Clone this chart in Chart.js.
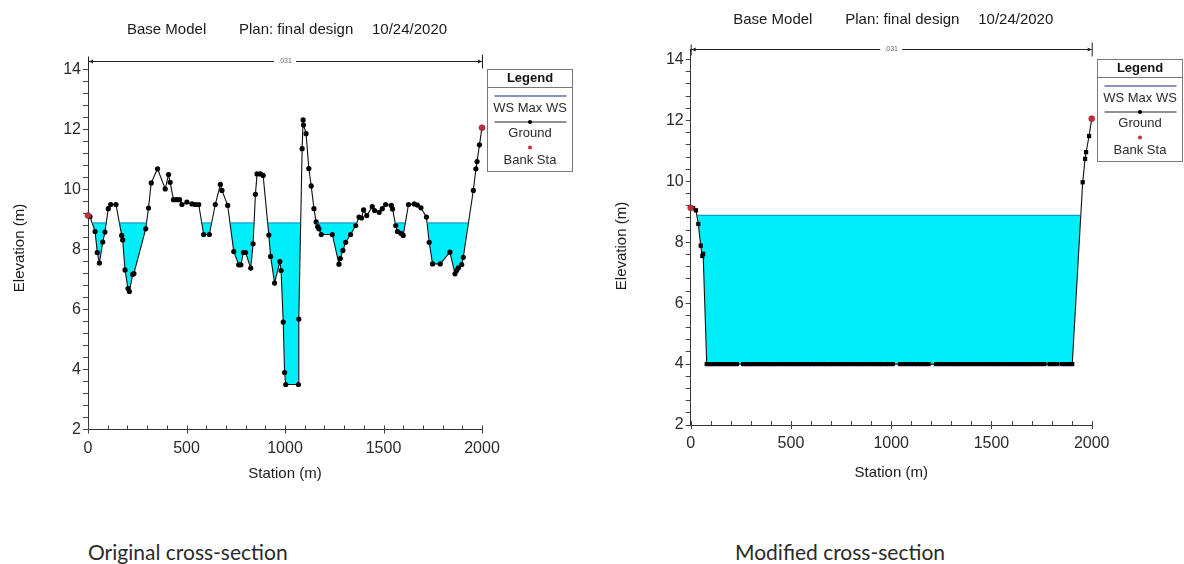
<!DOCTYPE html>
<html>
<head>
<meta charset="utf-8">
<script src="https://cdn.jsdelivr.net/npm/chart.js@4.4.1/dist/chart.umd.min.js"></script>
<style>
  html, body { margin: 0; padding: 0; background: #fff; }
  body { width: 1184px; height: 564px; position: relative; overflow: hidden; }
  .panel { position: absolute; top: 0; width: 592px; height: 500px; }
  #left { left: 0; }
  #right { left: 592px; }
  .caption { position: absolute; top: 541px; font-family: Lato, "Open Sans", sans-serif; font-size: 21px; line-height: 1; color: #2a2a2a; }
</style>
</head>
<body>
<div class="panel" id="left"><canvas id="origChart"></canvas></div>
<div class="panel" id="right"><canvas id="modChart"></canvas></div>
<div class="caption" style="left:88px">Original cross-section</div>
<div class="caption" style="left:735px">Modified cross-section</div>
<script>
// Original cross-section: ground survey points (station m, elevation m)
const origStations = [0, 10, 36, 47, 58, 75, 86, 103, 115, 142, 171, 176, 188, 203, 210, 227, 233,
  293, 307, 321, 353, 392, 409, 417, 434, 450, 465, 477, 502, 528, 545, 562, 587, 616, 646, 672,
  680, 709, 740, 765, 776, 789, 800, 826, 838, 850, 858, 875, 889, 918, 927, 947, 974, 980, 991,
  998, 1004, 1068, 1070, 1087, 1092, 1094, 1107, 1121, 1133, 1147, 1158, 1166, 1172, 1184, 1240,
  1274, 1281, 1294, 1308, 1333, 1359, 1376, 1389, 1399, 1415, 1443, 1455, 1478, 1494, 1511, 1540,
  1546, 1562, 1571, 1588, 1600, 1627, 1656, 1672, 1690, 1718, 1732, 1749, 1788, 1837, 1863, 1871,
  1880, 1897, 1905, 1956, 1969, 1975, 1987, 2000];
const origElev = [9.13, 9.10, 8.60, 7.90, 7.55, 8.25, 8.58, 9.36, 9.50, 9.50, 8.47, 8.32, 7.32, 6.70, 6.60, 7.17, 7.20,
  8.69, 9.38, 10.22, 10.69, 10.02, 10.50, 10.24, 9.66, 9.66, 9.66, 9.50, 9.58, 9.52, 9.50, 9.50, 8.50, 8.50, 9.50, 10.17,
  9.97, 9.47, 7.93, 7.49, 7.49, 7.90, 7.90, 7.38, 8.19, 9.84, 10.52, 10.52, 10.47, 8.48, 7.77, 6.88, 7.60, 7.30, 5.58,
  3.90, 3.50, 3.50, 5.68, 11.36, 12.32, 12.15, 11.86, 10.70, 10.12, 9.36, 8.92, 8.76, 8.69, 8.50, 8.50,
  7.51, 7.70, 7.97, 8.24, 8.50, 8.80, 9.08, 9.05, 9.32, 9.13, 9.43, 9.30, 9.24, 9.36, 9.50, 9.47,
  9.35, 8.80, 8.60, 8.54, 8.47, 9.50, 9.52, 9.48, 9.39, 9.08, 8.24, 7.52, 7.52, 7.91, 7.19, 7.30,
  7.39, 7.50, 7.74, 9.97, 10.69, 10.93, 11.49, 12.06];
const origBankStations = [0, 2000];
const origBankElev = [9.13, 12.06];
const origWS = 8.9;

// Modified cross-section: left bank, flat dredged bed, right bank
const modLeftStations = [0, 12, 26, 38, 50, 58, 62];
const modLeftElev = [9.13, 9.12, 9.05, 8.60, 7.89, 7.55, 7.62];
const modBedElev = 4.0;
const modBedStations = [80, 96, 112, 128, 146, 162, 178, 196, 214, 230, 262, 278, 296, 312, 330, 346,
  362, 380, 398, 414, 430, 448, 466, 482, 500, 518, 536, 552, 570, 588, 604, 622, 640, 658, 676, 694,
  710, 728, 746, 762, 780, 798, 816, 834, 850, 868, 886, 904, 920, 938, 956, 974, 990, 1008, 1044,
  1062, 1080, 1098, 1116, 1134, 1152, 1170, 1186, 1224, 1242, 1260, 1278, 1296, 1314, 1332, 1350,
  1368, 1386, 1404, 1422, 1440, 1458, 1476, 1494, 1512, 1530, 1548, 1566, 1584, 1602, 1620, 1638,
  1656, 1674, 1692, 1710, 1728, 1746, 1764, 1790, 1808, 1826, 1850, 1868, 1886, 1903];
const modRightStations = [1955, 1967, 1972, 1987, 2000];
const modRightElev = [9.97, 10.74, 10.96, 11.49, 12.06];
const modBankStations = [0, 2000];
const modBankElev = [9.13, 12.06];
const modWS = 8.9;

// Axes and labels
const stationRange = [0, 2000];
const xTickLabels = [0, 500, 1000, 1500, 2000];
const yTickLabels = [2, 4, 6, 8, 10, 12, 14];
const titleParts = ['Base Model', 'Plan: final design', '10/24/2020'];
const roughnessLabel = '.031';
const legendItems = ['WS Max WS', 'Ground', 'Bank Sta'];

const FONT = '"Liberation Sans", Arial, sans-serif';
const WATER = 'rgb(0, 238, 250)';
Chart.defaults.font.family = FONT;
Chart.defaults.color = '#2a2a2a';

function toPoints(stations, elev) {
    return stations.map((s, i) => ({ x: s, y: elev[i] }));
}

// Extra drawing: title, n-value bracket, axis titles, legend, water surface edge, x ticks
const sectionDecor = {
    id: 'sectionDecor',
    afterDatasetsDraw(chart, args, o) {
        const { ctx, chartArea: a, scales: { x, y } } = chart;
        const x0 = x.getPixelForValue(stationRange[0]);
        const x1 = x.getPixelForValue(stationRange[1]);

        // water surface edge, only where the ground is below it
        const pts = chart.getDatasetMeta(1).data;
        const wsY = y.getPixelForValue(o.ws);
        ctx.save();
        ctx.beginPath();
        ctx.moveTo(pts[0].x, pts[0].y);
        pts.forEach(p => ctx.lineTo(p.x, p.y));
        ctx.lineTo(pts[pts.length - 1].x, a.top);
        ctx.lineTo(pts[0].x, a.top);
        ctx.closePath();
        ctx.clip();
        ctx.strokeStyle = 'rgba(40, 130, 185, 0.9)';
        ctx.lineWidth = 1;
        ctx.beginPath();
        ctx.moveTo(x0, wsY + 0.5);
        ctx.lineTo(x1, wsY + 0.5);
        ctx.stroke();
        ctx.restore();

        ctx.save();
        // x ticks (inside), longer at labelled ones
        ctx.strokeStyle = '#444';
        ctx.lineWidth = 1;
        ctx.beginPath();
        for (let v = stationRange[0]; v <= stationRange[1]; v += 100) {
            const px = Math.round(x.getPixelForValue(v)) + 0.5;
            const major = xTickLabels.includes(v);
            ctx.moveTo(px, a.bottom - 4);
            ctx.lineTo(px, a.bottom + (major ? 4 : 0));
        }
        ctx.stroke();

        // roughness bracket across the top
        const by = Math.round(a.top) + 0.5;
        const mid = (x0 + x1) / 2;
        ctx.strokeStyle = '#222';
        ctx.beginPath();
        ctx.moveTo(x0, by); ctx.lineTo(mid - 11, by);
        ctx.moveTo(mid + 11, by); ctx.lineTo(x1, by);
        ctx.moveTo(x0 + 0.5, by - 5); ctx.lineTo(x0 + 0.5, by + 6);
        ctx.moveTo(x1 + 0.5, by - 7); ctx.lineTo(x1 + 0.5, by + 7);
        ctx.stroke();
        ctx.fillStyle = '#222';
        ctx.beginPath();
        ctx.moveTo(x0 + 1, by); ctx.lineTo(x0 + 5, by - 2); ctx.lineTo(x0 + 5, by + 2); ctx.closePath();
        ctx.moveTo(x1, by); ctx.lineTo(x1 - 4, by - 2); ctx.lineTo(x1 - 4, by + 2); ctx.closePath();
        ctx.fill();
        ctx.fillStyle = '#666';
        ctx.font = '7px ' + FONT;
        ctx.textAlign = 'center';
        ctx.textBaseline = 'middle';
        ctx.fillText(roughnessLabel, mid, by);

        // plot title
        ctx.fillStyle = '#1a1a1a';
        ctx.font = '15px ' + FONT;
        ctx.textAlign = 'left';
        ctx.fillText(titleParts[0], mid - 158, o.titleY);
        ctx.fillText(titleParts[1], mid - 46, o.titleY);
        ctx.fillText(titleParts[2], mid + 87, o.titleY);

        // axis titles
        ctx.textAlign = 'center';
        ctx.fillText('Station (m)', mid, o.stationTitleY);
        ctx.save();
        ctx.translate(o.elevTitleX, o.elevTitleY);
        ctx.rotate(-Math.PI / 2);
        ctx.fillText('Elevation (m)', 0, 0);
        ctx.restore();

        // legend box
        const lx = Math.round(a.right) + 5.5, ly = o.legendTop + 0.5, w = 85, h = 102;
        const cx = lx + w / 2;
        ctx.strokeStyle = '#777';
        ctx.strokeRect(lx, ly, w, h);
        ctx.beginPath();
        ctx.moveTo(lx, ly + 18); ctx.lineTo(lx + w, ly + 18);
        ctx.stroke();
        ctx.fillStyle = '#111';
        ctx.font = 'bold 13px ' + FONT;
        ctx.fillText('Legend', cx, ly + 8.5);
        ctx.font = '13px ' + FONT;
        ctx.fillStyle = '#2a2a2a';
        ctx.fillText(legendItems[0], cx, ly + 38.5);
        ctx.fillText(legendItems[1], cx, ly + 64);
        ctx.fillText(legendItems[2], cx, ly + 90.5);
        ctx.strokeStyle = 'rgb(100, 110, 165)';
        ctx.lineWidth = 1.5;
        ctx.beginPath();
        ctx.moveTo(lx + 7, ly + 26.5); ctx.lineTo(lx + w - 6, ly + 26.5);
        ctx.stroke();
        ctx.strokeStyle = '#222';
        ctx.lineWidth = 1;
        ctx.beginPath();
        ctx.moveTo(lx + 7, ly + 52.5); ctx.lineTo(lx + w - 6, ly + 52.5);
        ctx.stroke();
        ctx.fillStyle = '#000';
        ctx.beginPath(); ctx.arc(cx, ly + 52.5, 2, 0, Math.PI * 2); ctx.fill();
        ctx.fillStyle = '#c0303a';
        ctx.beginPath(); ctx.arc(cx, ly + 78, 2, 0, Math.PI * 2); ctx.fill();
        ctx.restore();
    }
};

function buildChart(canvasId, ground, banks, ws, o) {
    const ctx = document.getElementById(canvasId).getContext('2d');
    return new Chart(ctx, {
        type: 'line',
        data: {
            datasets: [
                {
                    label: 'Bank Sta',
                    data: banks,
                    showLine: false,
                    pointRadius: 3,
                    pointBackgroundColor: '#c0303a',
                    pointBorderColor: '#8a1f28',
                    pointBorderWidth: 0.5,
                    clip: false
                },
                {
                    label: 'Ground',
                    data: ground,
                    borderColor: '#111',
                    borderWidth: 1.1,
                    pointStyle: o.pointStyle,
                    pointRadius: o.pointRadius,
                    pointBackgroundColor: '#000',
                    pointBorderColor: '#000',
                    pointBorderWidth: 0,
                    tension: 0,
                    clip: false
                },
                {
                    label: 'WS Max WS',
                    data: stationRange.map(s => ({ x: s, y: ws })),
                    borderWidth: 0,
                    borderColor: 'rgba(0,0,0,0)',
                    pointRadius: 0,
                    fill: { target: 1, above: WATER, below: 'rgba(0,0,0,0)' }
                }
            ]
        },
        options: {
            responsive: true,
            maintainAspectRatio: false,
            animation: false,
            events: [],
            layout: { padding: o.padding },
            plugins: {
                legend: { display: false },
                tooltip: { enabled: false },
                sectionDecor: { ws: ws, titleY: o.titleY, stationTitleY: o.stationTitleY,
                    elevTitleX: o.elevTitleX, elevTitleY: o.elevTitleY, legendTop: o.legendTop }
            },
            scales: {
                x: {
                    type: 'linear',
                    min: stationRange[0],
                    max: stationRange[1],
                    afterFit: (scale) => { scale.height = o.xAxisHeight; },
                    grid: { drawOnChartArea: false, drawTicks: false },
                    border: { display: true, color: '#333' },
                    ticks: {
                        stepSize: 100,
                        autoSkip: false,
                        maxRotation: 0,
                        padding: 9,
                        font: { size: 16 },
                        callback: (v) => xTickLabels.includes(v) ? String(v) : ''
                    }
                },
                y: {
                    min: 2,
                    max: o.yMax,
                    afterFit: (scale) => { scale.width = o.yAxisWidth; },
                    afterBuildTicks: (scale) => {
                        const ticks = [];
                        for (let k = 0; k <= 30; k++) ticks.push({ value: Math.round((2 + k * 0.4) * 10) / 10 });
                        scale.ticks = ticks;
                    },
                    grid: { drawOnChartArea: false, drawTicks: true, tickLength: 5, tickColor: '#444' },
                    border: { display: true, color: '#333' },
                    ticks: {
                        autoSkip: false,
                        padding: 2,
                        font: { size: 16 },
                        callback: (v) => yTickLabels.includes(v) ? String(v) : ''
                    }
                }
            }
        },
        plugins: [sectionDecor]
    });
}

const origGround = toPoints(origStations, origElev);
const modGround = toPoints(modLeftStations, modLeftElev)
    .concat(modBedStations.map(s => ({ x: s, y: modBedElev })))
    .concat(toPoints(modRightStations, modRightElev));

buildChart('origChart', origGround, toPoints(origBankStations, origBankElev), origWS, {
    padding: { left: 0, right: 110, top: 60.5, bottom: 0 },
    yAxisWidth: 88, xAxisHeight: 70.5, yMax: 14.3,
    titleY: 30, stationTitleY: 474, elevTitleX: 20, elevTitleY: 248, legendTop: 69,
    pointStyle: 'circle', pointRadius: 2.6
});

buildChart('modChart', modGround, toPoints(modBankStations, modBankElev), modWS, {
    padding: { left: 0, right: 92.3, top: 49.2, bottom: 0 },
    yAxisWidth: 98.7, xAxisHeight: 75, yMax: 14.34,
    titleY: 20, stationTitleY: 473, elevTitleX: 30, elevTitleY: 246, legendTop: 59,
    pointStyle: 'rect', pointRadius: 3
});
</script>
</body>
</html>
